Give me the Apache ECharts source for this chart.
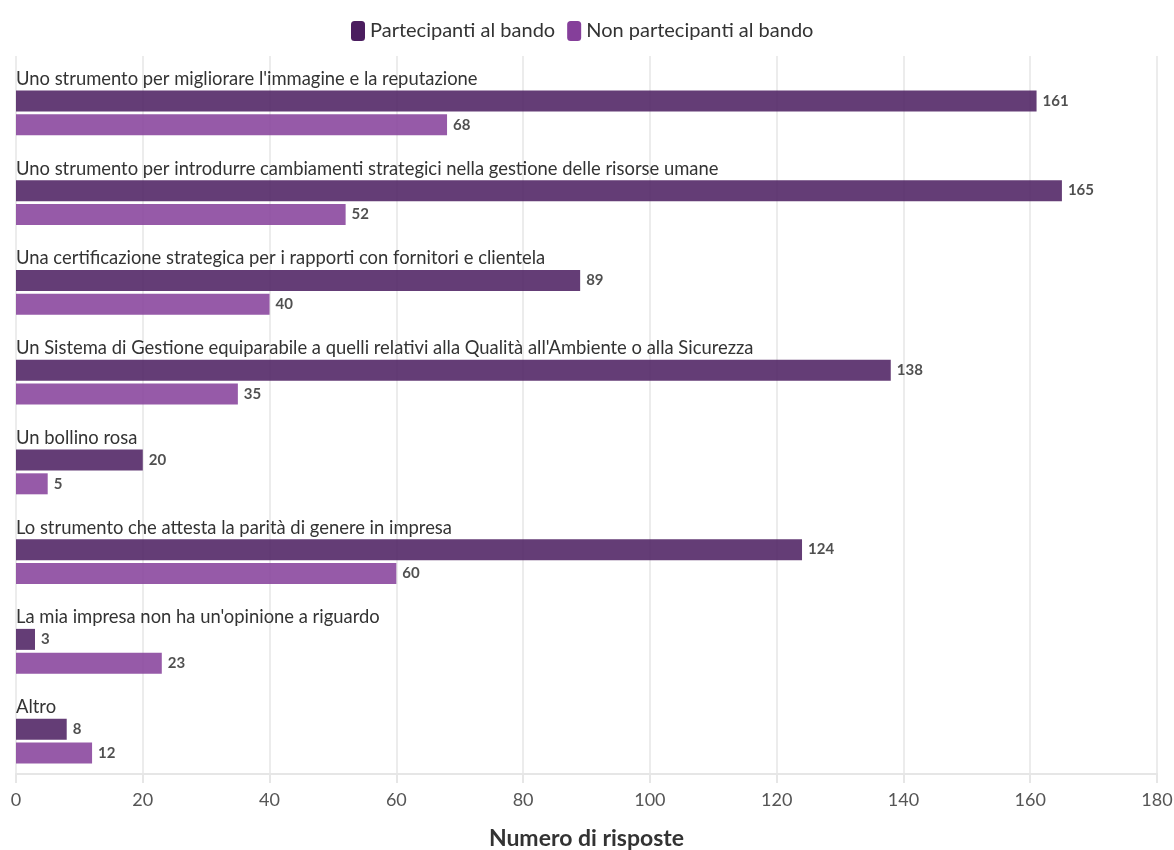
<!DOCTYPE html>
<html>
<head>
<meta charset="utf-8">
<script src="https://cdn.jsdelivr.net/npm/echarts@6/dist/echarts.min.js"></script>
<style>
html,body{margin:0;padding:0;background:#fff;}
#chart{width:1174px;height:850px;}
</style>
</head>
<body>
<div id="chart"></div>
<script>
const categories = [
  "Uno strumento per migliorare l'immagine e la reputazione",
  "Uno strumento per introdurre cambiamenti strategici nella gestione delle risorse umane",
  "Una certificazione strategica per i rapporti con fornitori e clientela",
  "Un Sistema di Gestione equiparabile a quelli relativi alla Qualità all'Ambiente o alla Sicurezza",
  "Un bollino rosa",
  "Lo strumento che attesta la parità di genere in impresa",
  "La mia impresa non ha un'opinione a riguardo",
  "Altro"
];
const seriesNames = ["Partecipanti al bando", "Non partecipanti al bando"];
const partecipanti = [161, 165, 89, 138, 20, 124, 3, 8];
const nonPartecipanti = [68, 52, 40, 35, 5, 60, 23, 12];
const xTicks = [0, 20, 40, 60, 80, 100, 120, 140, 160, 180];
const axisTitle = "Numero di risposte";

const FONT = "Lato";
const chart = echarts.init(document.getElementById('chart'), null, {renderer: 'canvas'});
const valueLabel = {
  show: true, position: 'right', distance: 6,
  fontFamily: FONT, fontWeight: 'bold', fontSize: 15, color: '#333'
};
chart.setOption({
  animation: false,
  textStyle: {fontFamily: FONT},
  legend: {
    data: seriesNames,
    top: 16,
    left: 346,
    icon: 'roundRect',
    itemWidth: 14,
    itemHeight: 20,
    itemGap: 12,
    itemStyle: {opacity: 1},
    textStyle: {fontFamily: FONT, fontSize: 20, color: '#333', padding: [0, 0, 0, 0]}
  },
  grid: {left: 16, right: 17, top: 56, bottom: 76, containLabel: false, outerBoundsMode: 'none'},
  xAxis: {
    type: 'value',
    min: xTicks[0],
    max: xTicks[xTicks.length - 1],
    interval: xTicks[1] - xTicks[0],
    name: axisTitle,
    nameLocation: 'middle',
    nameGap: 53,
    nameTextStyle: {fontFamily: FONT, fontWeight: 'bold', fontSize: 23, color: '#333'},
    axisLine: {show: true, lineStyle: {color: '#e6e6e6', width: 2}},
    axisTick: {show: true, length: 9, lineStyle: {color: '#e6e6e6', width: 2}},
    axisLabel: {fontFamily: FONT, fontSize: 18, color: '#555', margin: 17},
    splitLine: {show: true, lineStyle: {color: '#ececec', width: 2}}
  },
  yAxis: {
    type: 'category',
    data: categories,
    inverse: true,
    axisLine: {show: false},
    axisTick: {show: false},
    splitLine: {show: false},
    axisLabel: {
      inside: true,
      margin: 0,
      verticalAlign: 'bottom',
      padding: [0, 0, 13, 0],
      fontFamily: FONT, fontSize: 18.4, color: '#333'
    },
    z: 10
  },
  series: [
    {
      name: '_spacer', type: 'bar', data: categories.map(() => 0),
      barWidth: 21, barGap: '14%', silent: true,
      itemStyle: {color: 'rgba(0,0,0,0)'}, label: {show: false}, legendHoverLink: false
    },
    {
      name: seriesNames[0], type: 'bar', data: partecipanti,
      barWidth: 21, barGap: '14%',
      itemStyle: {color: '#4b1d5f', opacity: 0.86},
      label: valueLabel
    },
    {
      name: seriesNames[1], type: 'bar', data: nonPartecipanti,
      barWidth: 21, barGap: '14%',
      itemStyle: {color: '#853f9a', opacity: 0.86},
      label: valueLabel
    }
  ]
});
</script>
</body>
</html>
